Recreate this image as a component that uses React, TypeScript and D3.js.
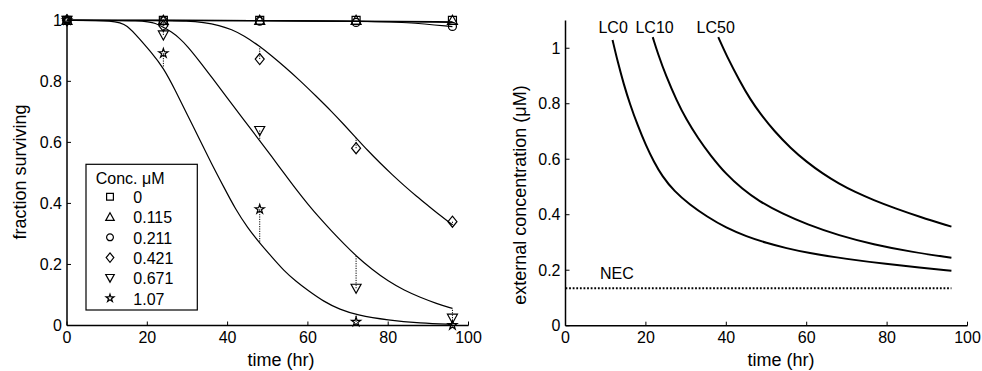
import React from 'react';
import * as d3 from 'd3';

// ---------- Left panel data ----------
const times = [0, 24, 48, 72, 96];
const concLabels = ['0', '0.115', '0.211', '0.421', '0.671', '1.07'];
const markerKinds = ['square', 'triUp', 'circle', 'diamond', 'triDown', 'star'];

const obs0 = [1, 1, 1, 1, 1];
const obs0115 = [1, 1, 1, 1, 1];
const obs0211 = [1, 0.998, 0.997, 0.993, 0.98];
const obs0421 = [1, 0.982, 0.873, 0.581, 0.34];
const obs0671 = [1, 0.952, 0.639, 0.122, 0.024];
const obs107 = [1, 0.892, 0.381, 0.012, 0.001];

const fit0: [number, number][] = [[0, 1], [24, 1], [48, 0.999], [72, 0.997], [96, 0.995]];
const fit0115: [number, number][] = [[0, 1], [24, 1], [48, 0.999], [72, 0.997], [96, 0.993]];
const fit0211: [number, number][] = [[0, 1], [24, 1], [48, 0.999], [72, 0.997], [85, 0.994], [96, 0.979]];
const fit0421: [number, number][] = [
  [0, 1], [24, 0.999], [30, 0.998], [34, 0.993], [38, 0.983], [41, 0.97], [44, 0.95], [48, 0.915],
  [51, 0.883], [54, 0.85], [58, 0.803], [62, 0.752], [66, 0.7], [69, 0.658], [72, 0.615], [75, 0.572],
  [78, 0.532], [81, 0.494], [84, 0.458], [87, 0.424], [90, 0.392], [93, 0.36], [96, 0.33],
];
const fit0671: [number, number][] = [
  [0, 1], [20, 1], [22, 0.99], [24, 0.978], [26, 0.962], [28, 0.942], [30, 0.915], [33, 0.866],
  [36, 0.814], [40, 0.744], [44, 0.674], [48, 0.606], [51, 0.553], [54, 0.5], [57, 0.447],
  [60, 0.397], [63, 0.351], [66, 0.308], [69, 0.267], [72, 0.228], [76, 0.183], [80, 0.145],
  [84, 0.115], [88, 0.092], [92, 0.072], [96, 0.056],
];
const fit107: [number, number][] = [
  [0, 1], [12, 1], [15, 0.985], [18, 0.94], [21, 0.895], [24, 0.845], [27, 0.77], [30, 0.69],
  [33, 0.61], [36, 0.53], [39, 0.455], [42, 0.38], [45, 0.32], [48, 0.27], [51, 0.225], [54, 0.18],
  [57, 0.145], [60, 0.115], [64, 0.078], [68, 0.052], [72, 0.035], [80, 0.017], [88, 0.008], [96, 0.004],
];

const observations = [obs0, obs0115, obs0211, obs0421, obs0671, obs107];
const fits = [fit0, fit0115, fit0211, fit0421, fit0671, fit107];

const leftXTicks = [0, 20, 40, 60, 80, 100];
const leftYTicks = [0, 0.2, 0.4, 0.6, 0.8, 1];

// ---------- Right panel data ----------
const lc0: [number, number][] = [
  [11.7, 1.03], [13, 0.95], [14.5, 0.87], [16, 0.8], [18, 0.72], [20, 0.65], [22, 0.59], [24, 0.54],
  [27, 0.485], [31, 0.435], [35, 0.395], [40, 0.352], [45, 0.322], [50, 0.298], [55, 0.279],
  [60, 0.263], [70, 0.24], [80, 0.222], [88, 0.21], [96, 0.198],
];
const lc10: [number, number][] = [
  [21.7, 1.04], [23, 0.98], [25, 0.9], [27.7, 0.81], [30, 0.745], [33, 0.675], [36, 0.615],
  [40, 0.545], [44, 0.493], [48, 0.45], [54, 0.403], [60, 0.366], [68, 0.325], [76.6, 0.293],
  [86, 0.266], [96, 0.245],
];
const lc50: [number, number][] = [
  [38, 1.04], [40, 0.975], [43.4, 0.88], [46, 0.815], [48.4, 0.765], [52, 0.7], [56, 0.64],
  [60, 0.59], [64, 0.548], [68, 0.512], [72, 0.482], [76.6, 0.453], [82, 0.423], [88, 0.393], [96, 0.357],
];
const lcCurves = [lc0, lc10, lc50];
const lcLabels = ['LC0', 'LC10', 'LC50'];
const lcLabelX = [8.2, 17.4, 32.6];
const necValue = 0.135;
const necRange = [0, 96];

const rightXTicks = [0, 20, 40, 60, 80, 100];
const rightYTicks = [0, 0.2, 0.4, 0.6, 0.8, 1];

const FONT = '"Liberation Sans", Arial, Helvetica, sans-serif';

function markerPath(kind: string, cx: number, cy: number, s: number): string {
  switch (kind) {
    case 'square':
      return `M${cx - 4 * s},${cy - 4 * s}h${8 * s}v${8 * s}h${-8 * s}Z`;
    case 'triUp':
      return `M${cx},${cy - 5 * s}L${cx + 5 * s},${cy + 4 * s}L${cx - 5 * s},${cy + 4 * s}Z`;
    case 'circle':
      return `M${cx - 4 * s},${cy}a${4 * s},${4 * s} 0 1,0 ${8 * s},0a${4 * s},${4 * s} 0 1,0 ${-8 * s},0Z`;
    case 'diamond':
      return `M${cx},${cy - 5.5 * s}L${cx + 4.5 * s},${cy}L${cx},${cy + 5.5 * s}L${cx - 4.5 * s},${cy}Z`;
    case 'triDown':
      return `M${cx - 5 * s},${cy - 4 * s}L${cx + 5 * s},${cy - 4 * s}L${cx},${cy + 5 * s}Z`;
    case 'star': {
      const p = d3.symbol(d3.symbolStar, 26 * s * s)() as string;
      return p.replace(/(-?\d*\.?\d+(?:e-?\d+)?),(-?\d*\.?\d+(?:e-?\d+)?)/g, (_m, a, b) =>
        `${+a + cx},${+b + cy}`);
    }
  }
  return '';
}

export default function App() {
  const lx = d3.scaleLinear().domain([0, 100]).range([67, 468.5]);
  const ly = d3.scaleLinear().domain([0, 1]).range([325.5, 20.3]);
  const rx = d3.scaleLinear().domain([0, 100]).range([565.5, 967.5]);
  const ry = d3.scaleLinear().domain([0, 1.1]).range([325.7, 20.5]);

  const leftLine = d3.line<[number, number]>().x((d) => lx(d[0])).y((d) => ly(d[1])).curve(d3.curveBasis);
  const rightLine = d3.line<[number, number]>().x((d) => rx(d[0])).y((d) => ry(d[1])).curve(d3.curveBasis);

  const legendX = 86, legendY = 164.3, legendW = 111.3, legendH = 145.7;

  return (
    <svg width={982} height={371} style={{ position: 'absolute', left: 0, top: 0, background: '#fff' }} fontFamily={FONT}>
      <rect x={0} y={0} width={982} height={371} fill="#fff" />
      {/* ---------- LEFT PANEL ---------- */}
      <g>
        {fits.map((f, i) => (
          <path key={'fit' + i} d={leftLine(f) as string} fill="none" stroke="#000" strokeWidth={1.2} />
        ))}
        {observations.map((obs, i) =>
          obs.map((v, j) => {
            const fv = fits[i].find((p) => p[0] === times[j]);
            if (!fv || Math.abs(fv[1] - v) < 0.01) return null;
            return (
              <line key={`res${i}-${j}`} x1={lx(times[j])} x2={lx(times[j])} y1={ly(v)} y2={ly(fv[1])}
                stroke="#000" strokeWidth={1} strokeDasharray="1.2,1.2" />
            );
          })
        )}
        {observations.map((obs, i) =>
          obs.map((v, j) => (
            <path key={`m${i}-${j}`} d={markerPath(markerKinds[i], lx(times[j]), ly(v), 1)}
              fill="none" stroke="#000" strokeWidth={1.2} />
          ))
        )}
        <line x1={lx(0)} x2={lx(0)} y1={ly(0)} y2={ly(1)} stroke="#000" strokeWidth={1.5} />
        <line x1={lx(0)} x2={lx(100)} y1={ly(0)} y2={ly(0)} stroke="#000" strokeWidth={1.5} />
        {leftXTicks.map((t) => (
          <g key={'lxt' + t}>
            <line x1={lx(t)} x2={lx(t)} y1={ly(0)} y2={ly(0) - 4} stroke="#000" strokeWidth={1} />
            <text x={lx(t)} y={343} textAnchor="middle" fontSize={16}>{t}</text>
          </g>
        ))}
        {leftYTicks.map((t) => (
          <g key={'lyt' + t}>
            <line x1={lx(0)} x2={lx(0) + 4} y1={ly(t)} y2={ly(t)} stroke="#000" strokeWidth={1} />
            <text x={lx(0) - 5} y={ly(t)} dy="0.35em" textAnchor="end" fontSize={16}>{t}</text>
          </g>
        ))}
        <text x={281} y={366} textAnchor="middle" fontSize={18}>time (hr)</text>
        <text transform="translate(26,172) rotate(-90)" textAnchor="middle" fontSize={18}>fraction surviving</text>

        <rect x={legendX} y={legendY} width={legendW} height={legendH} fill="#fff" stroke="#000" strokeWidth={1.2} />
        <text x={95.7} y={184} fontSize={16}>Conc. μM</text>
        {concLabels.map((c, i) => {
          const by = 203 + i * 20.3;
          return (
            <g key={'leg' + i}>
              <path d={markerPath(markerKinds[i], 110, by - 6.3, 0.85)} fill="none" stroke="#000" strokeWidth={1.2} />
              <text x={133.3} y={by} fontSize={16}>{c}</text>
            </g>
          );
        })}
      </g>

      {/* ---------- RIGHT PANEL ---------- */}
      <g>
        {lcCurves.map((c, i) => (
          <path key={'lc' + i} d={rightLine(c) as string} fill="none" stroke="#000" strokeWidth={2} />
        ))}
        {lcLabels.map((l, i) => (
          <text key={'lcl' + i} x={rx(lcLabelX[i])} y={33} fontSize={16}>{l}</text>
        ))}
        <line x1={rx(necRange[0])} x2={rx(necRange[1])} y1={ry(necValue)} y2={ry(necValue)}
          stroke="#000" strokeWidth={1.8} strokeDasharray="1.8,1.8" />
        <text x={600} y={279} fontSize={16}>NEC</text>

        <line x1={rx(0)} x2={rx(0)} y1={ry(0)} y2={ry(1.1)} stroke="#000" strokeWidth={1.5} />
        <line x1={rx(0)} x2={rx(100)} y1={ry(0)} y2={ry(0)} stroke="#000" strokeWidth={1.5} />
        {rightXTicks.map((t) => (
          <g key={'rxt' + t}>
            <line x1={rx(t)} x2={rx(t)} y1={ry(0)} y2={ry(0) - 4} stroke="#000" strokeWidth={1} />
            <text x={rx(t)} y={343} textAnchor="middle" fontSize={16}>{t}</text>
          </g>
        ))}
        {rightYTicks.map((t) => (
          <g key={'ryt' + t}>
            <line x1={rx(0)} x2={rx(0) + 4} y1={ry(t)} y2={ry(t)} stroke="#000" strokeWidth={1} />
            <text x={rx(0) - 5} y={ry(t)} dy="0.35em" textAnchor="end" fontSize={16}>{t}</text>
          </g>
        ))}
        <text x={781} y={366} textAnchor="middle" fontSize={18}>time (hr)</text>
        <text transform="translate(526,195) rotate(-90)" textAnchor="middle" fontSize={18}>external concentration (μM)</text>
      </g>
    </svg>
  );
}
